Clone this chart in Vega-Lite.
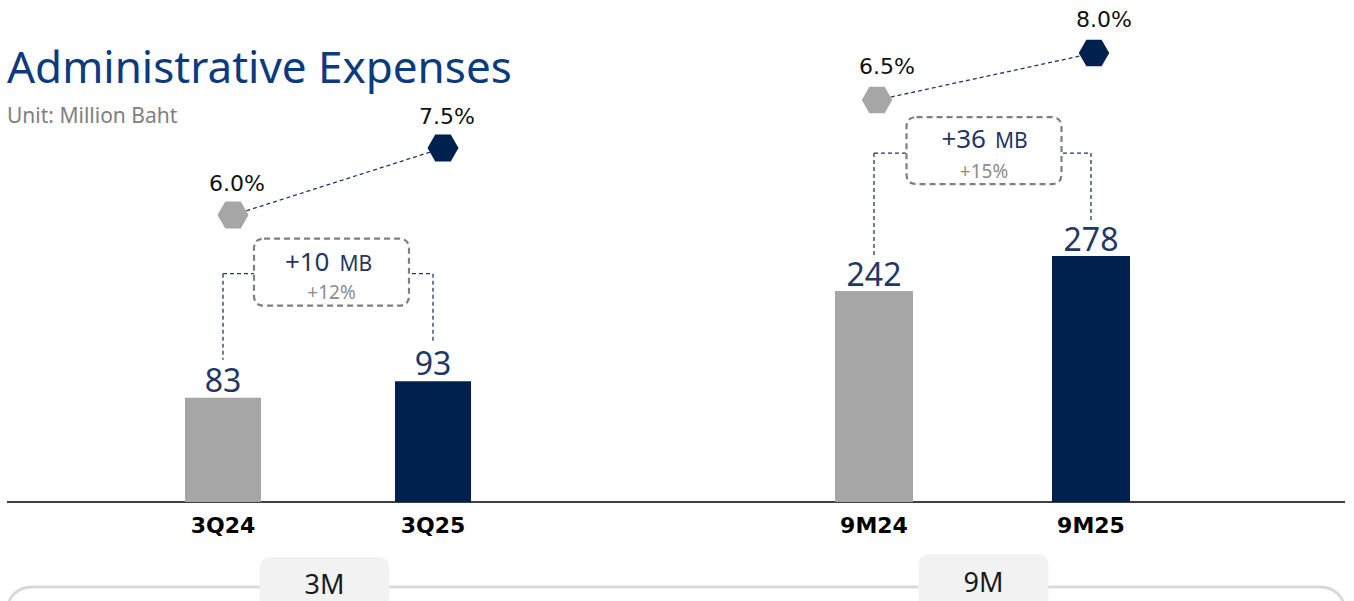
{
  "$schema": "https://vega.github.io/schema/vega-lite/v6.json",
  "width": 1338,
  "height": 601,
  "autosize": {"type": "none"},
  "padding": {"left": 7, "right": 9, "top": 0, "bottom": 0},
  "background": "white",
  "config": {"view": {"stroke": null}, "font": "Noto Sans", "axis": {"disable": true}},
  "title": {
    "text": "Administrative Expenses",
    "subtitle": "Unit: Million Baht",
    "anchor": "start",
    "frame": "group",
    "font": "Noto Sans",
    "fontSize": 44,
    "fontWeight": "normal",
    "color": "#0b3a7e",
    "subtitleFont": "Noto Sans",
    "subtitleFontSize": 21,
    "subtitleColor": "#808080",
    "subtitlePadding": 14,
    "offset": 0,
    "dy": 127
  },
  "datasets": {
    "bars": [
      {"group": "3M", "period": "3Q24", "year": "2024", "value": 83, "ratio": 0.060},
      {"group": "3M", "period": "3Q25", "year": "2025", "value": 93, "ratio": 0.075},
      {"group": "9M", "period": "9M24", "year": "2024", "value": 242, "ratio": 0.065},
      {"group": "9M", "period": "9M25", "year": "2025", "value": 278, "ratio": 0.080}
    ],
    "changes": [
      {"group": "3M", "prevPeriod": "3Q24", "currPeriod": "3Q25", "prev": 83, "curr": 93, "diff": "+10", "unit": "MB", "growth": "+12%"},
      {"group": "9M", "prevPeriod": "9M24", "currPeriod": "9M25", "prev": 242, "curr": 278, "diff": "+36", "unit": "MB", "growth": "+15%"}
    ]
  },
  "resolve": {"scale": {"x": "independent", "y": "independent"}},
  "layer": [
    {
      "resolve": {"scale": {"y": "independent"}},
      "layer": [
        {
          "layer": [
            {
              "data": {"name": "changes"},
              "transform": [{"filter": "datum.group === '3M'"}],
              "mark": {"type": "rect", "yOffset": 85, "y2Offset": 180, "cornerRadius": 24, "fill": "white", "stroke": "#d9d9d9", "strokeWidth": 3},
              "encoding": {"y": {"datum": 20, "type": "quantitative", "axis": null}, "y2": {"datum": 20}}
            },
            {
              "data": {"name": "changes"},
              "transform": [{"filter": "datum.group === '3M'"}],
              "mark": {"type": "rule", "stroke": "#000000", "strokeWidth": 1.5},
              "encoding": {"y": {"datum": 20, "type": "quantitative", "axis": null}}
            },
            {
              "data": {"name": "changes"},
              "transform": [{"filter": "datum.group === '3M'"}],
              "mark": {"type": "point", "shape": "M -1 0.8 L -1 -0.315 Q -1 -0.5 -0.815 -0.5 L 0.815 -0.5 Q 1 -0.5 1 -0.315 L 1 0.8 Z", "size": 16900, "filled": true, "fill": "#f2f2f2", "strokeWidth": 0, "opacity": 1, "xOffset": 101.5, "yOffset": 87.5},
              "encoding": {"x": {"field": "prevPeriod", "type": "nominal", "axis": null}, "y": {"datum": 20, "type": "quantitative", "axis": null}}
            },
            {
              "data": {"name": "changes"},
              "transform": [{"filter": "datum.group === '3M'"}],
              "mark": {"type": "text", "fontSize": 27, "color": "#1a1a1a", "align": "center", "baseline": "alphabetic", "xOffset": 101.5, "yOffset": 92},
              "encoding": {"x": {"field": "prevPeriod", "type": "nominal", "axis": null}, "y": {"datum": 20, "type": "quantitative", "axis": null}, "text": {"field": "group"}}
            },
            {
              "data": {"name": "bars"},
              "transform": [{"filter": "datum.group === '3M'"}],
              "mark": {"type": "bar"},
              "encoding": {
                "x": {"field": "period", "type": "nominal", "axis": null, "scale": {"domain": ["3Q24", "3Q25"], "range": [111, 531], "paddingInner": 0.638, "paddingOuter": 0.319}},
                "y": {"field": "value", "type": "quantitative", "axis": null, "scale": {"domain": [20, 320], "range": [502, 5.5], "zero": false, "nice": false}},
                "y2": {"datum": 20},
                "color": {"field": "year", "type": "nominal", "legend": null, "scale": {"domain": ["2024", "2025"], "range": ["#a6a6a6", "#00214e"]}}
              }
            },
            {
              "data": {"name": "bars"},
              "transform": [{"filter": "datum.group === '3M'"}],
              "mark": {"type": "text", "fontSize": 32, "color": "#1f3864", "align": "center", "baseline": "alphabetic", "dy": -6},
              "encoding": {"x": {"field": "period", "type": "nominal", "axis": null}, "y": {"field": "value", "type": "quantitative", "axis": null}, "text": {"field": "value", "type": "quantitative"}}
            },
            {
              "data": {"name": "bars"},
              "transform": [{"filter": "datum.group === '3M'"}],
              "mark": {"type": "text", "font": "DejaVu Sans", "fontSize": 22, "fontWeight": "bold", "color": "#000000", "align": "center", "baseline": "alphabetic", "dy": 31},
              "encoding": {"x": {"field": "period", "type": "nominal", "axis": null}, "y": {"datum": 20, "type": "quantitative", "axis": null}, "text": {"field": "period"}}
            },
            {
              "data": {"name": "changes"},
              "transform": [{"filter": "datum.group === '3M'"}],
              "mark": {"type": "rule", "stroke": "#1f3864", "strokeWidth": 1.3, "strokeDash": [4, 3], "yOffset": -107.5, "y2Offset": -38},
              "encoding": {"x": {"field": "prevPeriod", "type": "nominal", "axis": null}, "y": {"field": "curr", "type": "quantitative", "axis": null}, "y2": {"field": "prev"}}
            },
            {
              "data": {"name": "changes"},
              "transform": [{"filter": "datum.group === '3M'"}],
              "mark": {"type": "rule", "stroke": "#1f3864", "strokeWidth": 1.3, "strokeDash": [4, 3], "yOffset": -107.5, "y2Offset": -38},
              "encoding": {"x": {"field": "currPeriod", "type": "nominal", "axis": null}, "y": {"field": "curr", "type": "quantitative", "axis": null}, "y2": {"field": "curr"}}
            },
            {
              "data": {"name": "changes"},
              "transform": [{"filter": "datum.group === '3M'"}],
              "mark": {"type": "rule", "stroke": "#1f3864", "strokeWidth": 1.3, "strokeDash": [4, 3], "yOffset": -107.5},
              "encoding": {"x": {"field": "prevPeriod", "type": "nominal", "axis": null, "bandPosition": 0.5}, "x2": {"field": "currPeriod", "bandPosition": 0.5}, "y": {"field": "curr", "type": "quantitative", "axis": null}}
            },
            {
              "data": {"name": "changes"},
              "transform": [{"filter": "datum.group === '3M'"}],
              "mark": {"type": "point", "shape": "M -0.87 -0.432 L 0.87 -0.432 Q 1 -0.432 1 -0.302 L 1 0.302 Q 1 0.432 0.87 0.432 L -0.87 0.432 Q -1 0.432 -1 0.302 L -1 -0.302 Q -1 -0.432 -0.87 -0.432 Z", "size": 24025, "filled": true, "fill": "white", "stroke": "#7f7f7f", "strokeWidth": 2.2, "strokeDash": [6, 4], "opacity": 1, "xOffset": 108.5, "yOffset": -109},
              "encoding": {"x": {"field": "prevPeriod", "type": "nominal", "axis": null}, "y": {"field": "curr", "type": "quantitative", "axis": null}}
            },
            {
              "data": {"name": "changes"},
              "transform": [{"filter": "datum.group === '3M'"}],
              "mark": {"type": "text", "fontSize": 26, "color": "#1f3864", "align": "right", "baseline": "alphabetic", "xOffset": 108.5, "yOffset": -109, "dx": -2, "dy": -1},
              "encoding": {"x": {"field": "prevPeriod", "type": "nominal", "axis": null}, "y": {"field": "curr", "type": "quantitative", "axis": null}, "text": {"field": "diff"}}
            },
            {
              "data": {"name": "changes"},
              "transform": [{"filter": "datum.group === '3M'"}],
              "mark": {"type": "text", "fontSize": 21, "color": "#1f3864", "align": "left", "baseline": "alphabetic", "xOffset": 108.5, "yOffset": -109, "dx": 8, "dy": -1},
              "encoding": {"x": {"field": "prevPeriod", "type": "nominal", "axis": null}, "y": {"field": "curr", "type": "quantitative", "axis": null}, "text": {"field": "unit"}}
            },
            {
              "data": {"name": "changes"},
              "transform": [{"filter": "datum.group === '3M'"}],
              "mark": {"type": "text", "fontSize": 19, "color": "#8c8c8c", "align": "center", "baseline": "alphabetic", "xOffset": 108.5, "yOffset": -109, "dy": 27},
              "encoding": {"x": {"field": "prevPeriod", "type": "nominal", "axis": null}, "y": {"field": "curr", "type": "quantitative", "axis": null}, "text": {"field": "growth"}}
            }
          ]
        },
        {
          "layer": [
            {
              "data": {"name": "bars"},
              "transform": [{"filter": "datum.group === '3M'"}],
              "mark": {"type": "line", "stroke": "#1f3864", "strokeWidth": 1.3, "strokeDash": [4, 3], "xOffset": 10},
              "encoding": {
                "x": {"field": "period", "type": "nominal", "axis": null},
                "y": {"field": "ratio", "type": "quantitative", "axis": null, "scale": {"domain": [0.05, 0.09], "range": [259.7, 81], "zero": false, "nice": false}}
              }
            },
            {
              "data": {"name": "bars"},
              "transform": [{"filter": "datum.group === '3M'"}],
              "mark": {"type": "point", "shape": "M -1 0 L -0.5 -0.866 L 0.5 -0.866 L 1 0 L 0.5 0.866 L -0.5 0.866 Z", "size": 961, "filled": true, "opacity": 1, "strokeWidth": 0, "xOffset": 10},
              "encoding": {
                "x": {"field": "period", "type": "nominal", "axis": null},
                "y": {"field": "ratio", "type": "quantitative", "axis": null},
                "color": {"field": "year", "type": "nominal", "legend": null, "scale": {"domain": ["2024", "2025"], "range": ["#a6a6a6", "#00214e"]}}
              }
            },
            {
              "data": {"name": "bars"},
              "transform": [{"filter": "datum.group === '3M'"}],
              "mark": {"type": "text", "font": "DejaVu Sans", "fontSize": 22, "color": "#111111", "align": "center", "baseline": "alphabetic", "xOffset": 10, "dx": 4, "dy": -24},
              "encoding": {
                "x": {"field": "period", "type": "nominal", "axis": null},
                "y": {"field": "ratio", "type": "quantitative", "axis": null},
                "text": {"field": "ratio", "type": "quantitative", "format": ".1%"}
              }
            }
          ]
        }
      ]
    },
    {
      "resolve": {"scale": {"y": "independent"}},
      "layer": [
        {
          "layer": [
            {
              "data": {"name": "changes"},
              "transform": [{"filter": "datum.group === '9M'"}],
              "mark": {"type": "point", "shape": "M -1 0.8 L -1 -0.315 Q -1 -0.5 -0.815 -0.5 L 0.815 -0.5 Q 1 -0.5 1 -0.315 L 1 0.8 Z", "size": 16900, "filled": true, "fill": "#f2f2f2", "strokeWidth": 0, "opacity": 1, "xOffset": 109.5, "yOffset": 84.5},
              "encoding": {"x": {"field": "prevPeriod", "type": "nominal", "axis": null}, "y": {"datum": 25, "type": "quantitative", "axis": null}}
            },
            {
              "data": {"name": "changes"},
              "transform": [{"filter": "datum.group === '9M'"}],
              "mark": {"type": "text", "fontSize": 27, "color": "#1a1a1a", "align": "center", "baseline": "alphabetic", "xOffset": 109.5, "yOffset": 90},
              "encoding": {"x": {"field": "prevPeriod", "type": "nominal", "axis": null}, "y": {"datum": 25, "type": "quantitative", "axis": null}, "text": {"field": "group"}}
            },
            {
              "data": {"name": "bars"},
              "transform": [{"filter": "datum.group === '9M'"}],
              "mark": {"type": "bar"},
              "encoding": {
                "x": {"field": "period", "type": "nominal", "axis": null, "scale": {"domain": ["9M24", "9M25"], "range": [758.5, 1192.5], "paddingInner": 0.6406, "paddingOuter": 0.3203}},
                "y": {"field": "value", "type": "quantitative", "axis": null, "scale": {"domain": [25, 525], "range": [502, 16], "zero": false, "nice": false}},
                "y2": {"datum": 25},
                "color": {"field": "year", "type": "nominal", "legend": null, "scale": {"domain": ["2024", "2025"], "range": ["#a6a6a6", "#00214e"]}}
              }
            },
            {
              "data": {"name": "bars"},
              "transform": [{"filter": "datum.group === '9M'"}],
              "mark": {"type": "text", "fontSize": 32, "color": "#1f3864", "align": "center", "baseline": "alphabetic", "dy": -5},
              "encoding": {"x": {"field": "period", "type": "nominal", "axis": null}, "y": {"field": "value", "type": "quantitative", "axis": null}, "text": {"field": "value", "type": "quantitative"}}
            },
            {
              "data": {"name": "bars"},
              "transform": [{"filter": "datum.group === '9M'"}],
              "mark": {"type": "text", "font": "DejaVu Sans", "fontSize": 22, "fontWeight": "bold", "color": "#000000", "align": "center", "baseline": "alphabetic", "dy": 31},
              "encoding": {"x": {"field": "period", "type": "nominal", "axis": null}, "y": {"datum": 25, "type": "quantitative", "axis": null}, "text": {"field": "period"}}
            },
            {
              "data": {"name": "changes"},
              "transform": [{"filter": "datum.group === '9M'"}],
              "mark": {"type": "rule", "stroke": "#1f3864", "strokeWidth": 1.3, "strokeDash": [4, 3], "yOffset": -103, "y2Offset": -34},
              "encoding": {"x": {"field": "prevPeriod", "type": "nominal", "axis": null}, "y": {"field": "curr", "type": "quantitative", "axis": null}, "y2": {"field": "prev"}}
            },
            {
              "data": {"name": "changes"},
              "transform": [{"filter": "datum.group === '9M'"}],
              "mark": {"type": "rule", "stroke": "#1f3864", "strokeWidth": 1.3, "strokeDash": [4, 3], "yOffset": -103, "y2Offset": -34},
              "encoding": {"x": {"field": "currPeriod", "type": "nominal", "axis": null}, "y": {"field": "curr", "type": "quantitative", "axis": null}, "y2": {"field": "curr"}}
            },
            {
              "data": {"name": "changes"},
              "transform": [{"filter": "datum.group === '9M'"}],
              "mark": {"type": "rule", "stroke": "#1f3864", "strokeWidth": 1.3, "strokeDash": [4, 3], "yOffset": -103},
              "encoding": {"x": {"field": "prevPeriod", "type": "nominal", "axis": null, "bandPosition": 0.5}, "x2": {"field": "currPeriod", "bandPosition": 0.5}, "y": {"field": "curr", "type": "quantitative", "axis": null}}
            },
            {
              "data": {"name": "changes"},
              "transform": [{"filter": "datum.group === '9M'"}],
              "mark": {"type": "point", "shape": "M -0.87 -0.432 L 0.87 -0.432 Q 1 -0.432 1 -0.302 L 1 0.302 Q 1 0.432 0.87 0.432 L -0.87 0.432 Q -1 0.432 -1 0.302 L -1 -0.302 Q -1 -0.432 -0.87 -0.432 Z", "size": 24025, "filled": true, "fill": "white", "stroke": "#7f7f7f", "strokeWidth": 2.2, "strokeDash": [6, 4], "opacity": 1, "xOffset": 110, "yOffset": -105.5},
              "encoding": {"x": {"field": "prevPeriod", "type": "nominal", "axis": null}, "y": {"field": "curr", "type": "quantitative", "axis": null}}
            },
            {
              "data": {"name": "changes"},
              "transform": [{"filter": "datum.group === '9M'"}],
              "mark": {"type": "text", "fontSize": 26, "color": "#1f3864", "align": "right", "baseline": "alphabetic", "xOffset": 110, "yOffset": -105.5, "dx": 2, "dy": -3},
              "encoding": {"x": {"field": "prevPeriod", "type": "nominal", "axis": null}, "y": {"field": "curr", "type": "quantitative", "axis": null}, "text": {"field": "diff"}}
            },
            {
              "data": {"name": "changes"},
              "transform": [{"filter": "datum.group === '9M'"}],
              "mark": {"type": "text", "fontSize": 21, "color": "#1f3864", "align": "left", "baseline": "alphabetic", "xOffset": 110, "yOffset": -105.5, "dx": 11, "dy": -3},
              "encoding": {"x": {"field": "prevPeriod", "type": "nominal", "axis": null}, "y": {"field": "curr", "type": "quantitative", "axis": null}, "text": {"field": "unit"}}
            },
            {
              "data": {"name": "changes"},
              "transform": [{"filter": "datum.group === '9M'"}],
              "mark": {"type": "text", "fontSize": 19, "color": "#8c8c8c", "align": "center", "baseline": "alphabetic", "xOffset": 110, "yOffset": -105.5, "dy": 27},
              "encoding": {"x": {"field": "prevPeriod", "type": "nominal", "axis": null}, "y": {"field": "curr", "type": "quantitative", "axis": null}, "text": {"field": "growth"}}
            }
          ]
        },
        {
          "layer": [
            {
              "data": {"name": "bars"},
              "transform": [{"filter": "datum.group === '9M'"}],
              "mark": {"type": "line", "stroke": "#1f3864", "strokeWidth": 1.3, "strokeDash": [4, 3], "xOffset": 3},
              "encoding": {
                "x": {"field": "period", "type": "nominal", "axis": null},
                "y": {"field": "ratio", "type": "quantitative", "axis": null, "scale": {"domain": [0.05, 0.09], "range": [147, 21.7], "zero": false, "nice": false}}
              }
            },
            {
              "data": {"name": "bars"},
              "transform": [{"filter": "datum.group === '9M'"}],
              "mark": {"type": "point", "shape": "M -1 0 L -0.5 -0.866 L 0.5 -0.866 L 1 0 L 0.5 0.866 L -0.5 0.866 Z", "size": 930, "filled": true, "opacity": 1, "strokeWidth": 0, "xOffset": 3},
              "encoding": {
                "x": {"field": "period", "type": "nominal", "axis": null},
                "y": {"field": "ratio", "type": "quantitative", "axis": null},
                "color": {"field": "year", "type": "nominal", "legend": null, "scale": {"domain": ["2024", "2025"], "range": ["#a6a6a6", "#00214e"]}}
              }
            },
            {
              "data": {"name": "bars"},
              "transform": [{"filter": "datum.group === '9M'"}],
              "mark": {"type": "text", "font": "DejaVu Sans", "fontSize": 22, "color": "#111111", "align": "center", "baseline": "alphabetic", "xOffset": 3, "dx": 10, "dy": -26},
              "encoding": {
                "x": {"field": "period", "type": "nominal", "axis": null},
                "y": {"field": "ratio", "type": "quantitative", "axis": null},
                "text": {"field": "ratio", "type": "quantitative", "format": ".1%"}
              }
            }
          ]
        }
      ]
    }
  ]
}
